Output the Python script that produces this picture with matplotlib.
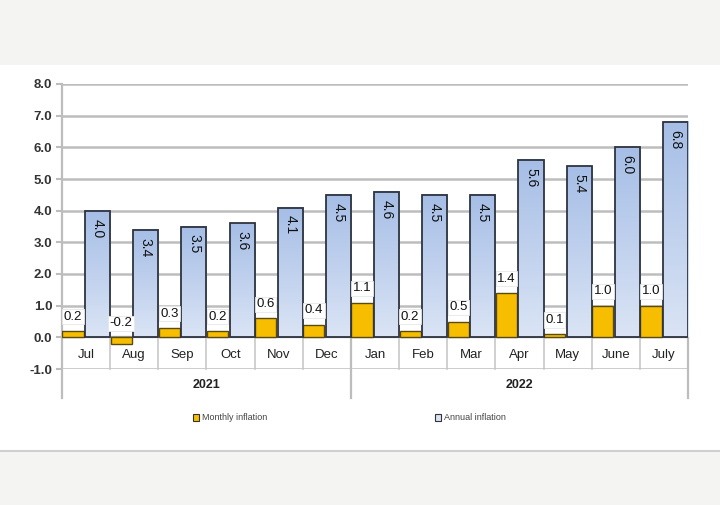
import matplotlib
matplotlib.use("Agg")
import matplotlib.pyplot as plt
import numpy as np
from matplotlib.colors import LinearSegmentedColormap
from matplotlib.patches import Rectangle
from matplotlib.lines import Line2D

months = ["Jul", "Aug", "Sep", "Oct", "Nov", "Dec", "Jan", "Feb", "Mar", "Apr", "May", "June", "July"]
years = ["2021", "2022"]
year_counts = [6, 7]
monthly = [0.2, -0.2, 0.3, 0.2, 0.6, 0.4, 1.1, 0.2, 0.5, 1.4, 0.1, 1.0, 1.0]
annual = [4.0, 3.4, 3.5, 3.6, 4.1, 4.5, 4.6, 4.5, 4.5, 5.6, 5.4, 6.0, 6.8]
yticks = [-1.0, 0.0, 1.0, 2.0, 3.0, 4.0, 5.0, 6.0, 7.0, 8.0]

plt.rcParams['font.family'] = ['Liberation Sans', 'DejaVu Sans']

fig = plt.figure(figsize=(7.2, 5.05), dpi=100)
fig.patch.set_facecolor("#F4F4F2")
fig.add_artist(Rectangle((0, (505 - 451) / 505), 1, (451 - 65) / 505, transform=fig.transFigure,
                         facecolor="white", edgecolor="none", zorder=0))
fig.add_artist(Line2D([0, 1], [(505 - 451) / 505] * 2, transform=fig.transFigure, color="#CFCFCF", lw=1.5))

ax = fig.add_axes([62 / 720, (505 - 369) / 505, (688 - 62) / 720, (369 - 84) / 505])
ax.set_facecolor("white")
n = len(months)
x = np.arange(n)
ax.set_xlim(-0.5, n - 0.5)
ax.set_ylim(-1.0, 8.0)

for s in ax.spines.values():
    s.set_visible(False)

ax.set_yticks(yticks)
ax.set_yticklabels([f"{v:.1f}" for v in yticks], fontsize=9.5, fontweight="bold", color="#333333")
ax.tick_params(axis="y", length=4, color="#BDBDBD", width=1.5, pad=3)
ax.set_xticks([])
for v in yticks:
    if v != 0.0:
        ax.axhline(v, color="#BDBDBD", lw=1.8, zorder=0)

# category axis table
ax.axhline(0.0, color="#9A9A9A", lw=1.6, zorder=1)
ax.plot([-0.5, -0.5], [8.0, -1.9], color="#BDBDBD", lw=1.6, clip_on=False, zorder=1)
for i in range(1, n):
    ax.plot([i - 0.5, i - 0.5], [0, -1.0], color="#C8C8C8", lw=1.2, clip_on=False, zorder=1)
start = -0.5
for yr, c in zip(years, year_counts):
    end = start + c
    ax.plot([end, end], [0, -1.9], color="#BDBDBD", lw=1.6, clip_on=False, zorder=1)
    ax.text((start + end) / 2, -1.52, yr, ha="center", va="center", fontsize=9, fontweight="bold", color="#222222")
    start = end
for i, m in enumerate(months):
    ax.text(i, -0.55, m, ha="center", va="center", fontsize=9.5, color="#222222")

mw = 0.44
aw = 0.52
mo = -0.27
ao = 0.24

cmap = LinearSegmentedColormap.from_list("blu", ["#DAE4F5", "#A6BEE6"])
grad = np.linspace(0, 1, 64).reshape(-1, 1)

for i in range(n):
    # monthly
    ax.bar(x[i] + mo, monthly[i], width=mw, color="#F7BE00", edgecolor="#5A4A10", lw=1.0, zorder=3)
    # annual gradient
    x0 = x[i] + ao - aw / 2
    x1 = x[i] + ao + aw / 2
    ax.imshow(grad, extent=[x0, x1, 0, annual[i]], origin="lower", aspect="auto", cmap=cmap, zorder=3)
    ax.bar(x[i] + ao, annual[i], width=aw, fill=False, edgecolor="#2E3440", lw=1.3, zorder=4)
    ax.text(x[i] + ao, annual[i] - 0.25, f"{annual[i]:.1f}", rotation=270, ha="center", va="top",
            fontsize=10, color="#111111", zorder=5)
    ax.text(x[i] + mo, max(monthly[i], 0) + 0.45, f"{monthly[i]:.1f}", ha="center", va="center",
            fontsize=9.5, color="#111111", zorder=5,
            bbox=dict(boxstyle="square,pad=0.12", facecolor="white", edgecolor="#E6E6E6", lw=0.6))

ax.set_xlim(-0.5, n - 0.5)
ax.set_ylim(-1.0, 8.0)

h1 = Rectangle((0, 0), 1, 1, facecolor="#F7BE00", edgecolor="#333333", lw=0.8)
h2 = Rectangle((0, 0), 1, 1, facecolor="#D8E3F5", edgecolor="#333333", lw=0.8)
fig.legend([h1], ["Monthly inflation"], loc="center", bbox_to_anchor=(230 / 720, (505 - 418) / 505),
           frameon=False, fontsize=6.5, handlelength=0.7, handleheight=0.7, handletextpad=0.3,
           labelcolor="#444444")
fig.legend([h2], ["Annual inflation"], loc="center", bbox_to_anchor=(470 / 720, (505 - 418) / 505),
           frameon=False, fontsize=6.5, handlelength=0.7, handleheight=0.7, handletextpad=0.3,
           labelcolor="#444444")

fig.savefig("out.png", dpi=100, facecolor=fig.get_facecolor())
